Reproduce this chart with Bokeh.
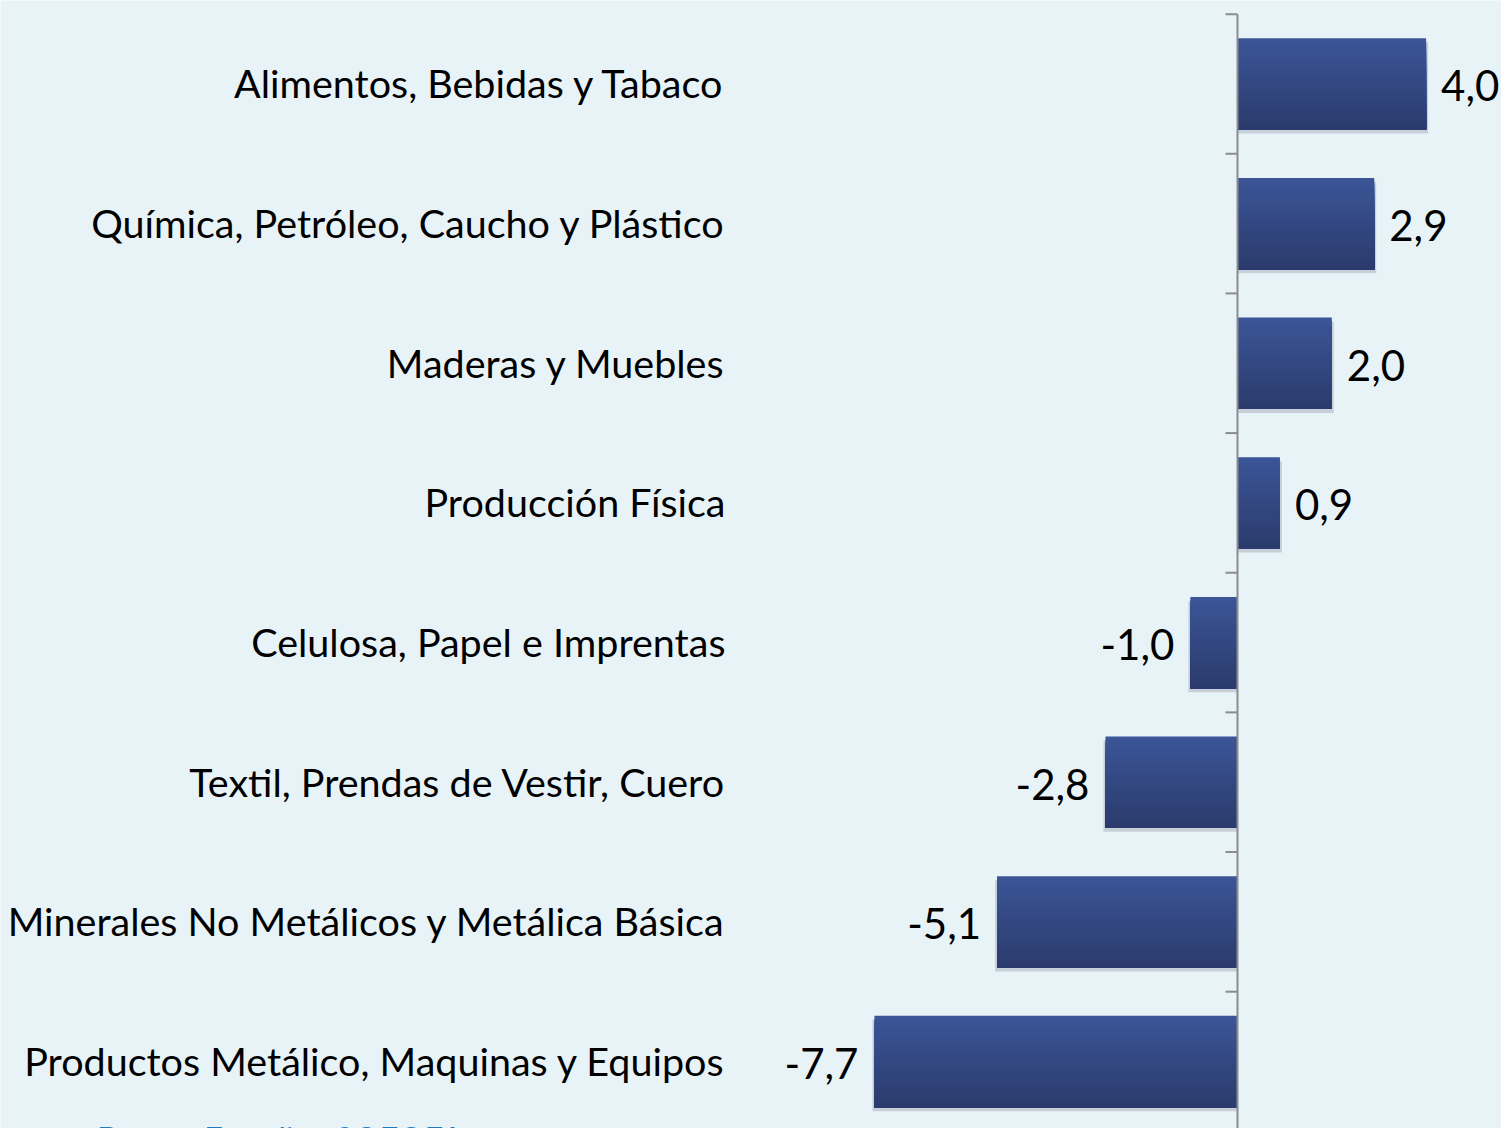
import numpy as np
from bokeh.plotting import figure
from bokeh.models import ColumnDataSource, Range1d
from bokeh.core.properties import value
from bokeh.embed import file_html
from bokeh.resources import INLINE

# ---- data (top to bottom) ----
categories = [
    "Alimentos, Bebidas y Tabaco",
    "Química, Petróleo, Caucho y Plástico",
    "Maderas y Muebles",
    "Producción Física",
    "Celulosa, Papel e Imprentas",
    "Textil, Prendas de Vestir, Cuero",
    "Minerales No Metálicos y Metálica Básica",
    "Productos Metálico, Maquinas y Equipos",
]
values = [4.0, 2.9, 2.0, 0.9, -1.0, -2.8, -5.1, -7.7]
value_labels = ["4,0", "2,9", "2,0", "0,9", "-1,0", "-2,8", "-5,1", "-7,7"]
source_note = "Fuente: Depto. Estudios SOFOFA"

# ---- layout ----
W, H = 1501, 1128
PX_X = 47.15         # pixels per value unit
PX_Y = 139.65        # pixels per category slot
AXIS_PX = 1237       # axis position from left of figure
Y0_PX = 67.0         # centre of bottom category from bottom of figure
BAR_H = 0.654
FONT = "Lato"

n = len(categories)
ys = [n - 1 - i for i in range(n)]

p = figure(width=W, height=H,
           x_range=Range1d(-AXIS_PX / PX_X, (W - AXIS_PX) / PX_X),
           y_range=Range1d(-Y0_PX / PX_Y, (H - Y0_PX) / PX_Y),
           output_backend="svg", toolbar_location=None,
           x_axis_location=None, y_axis_location=None, min_border=0)
p.grid.visible = False
p.outline_line_color = None
p.background_fill_color = "#e8f3f8"
p.border_fill_color = "#e8f3f8"

# shadow
p.hbar(y=[y - 4 / PX_Y for y in ys], left=[min(v, 0) - (2 / PX_X if v < 0 else 0) for v in values],
       right=[max(v, 0) + (2 / PX_X if v > 0 else 0) for v in values],
       height=BAR_H, fill_color="#7a8090", fill_alpha=0.3, line_color=None)

# gradient bars: overlapping slices, each reaching to the bar bottom
N = 30
top_c = np.array([0x3b, 0x55, 0x97])
bot_c = np.array([0x2b, 0x3b, 0x6d])
sl_y, sl_h, sl_l, sl_r, sl_c = [], [], [], [], []
for y, v in zip(ys, values):
    top = y + BAR_H / 2
    bot = y - BAR_H / 2
    for k in range(N):
        t = k / (N - 1)
        c = top_c + (bot_c - top_c) * t
        col = "#%02x%02x%02x" % tuple(int(round(x)) for x in c)
        s_top = top - k * BAR_H / N
        sl_y.append((s_top + bot) / 2)
        sl_h.append(s_top - bot)
        sl_l.append(min(v, 0))
        sl_r.append(max(v, 0))
        sl_c.append(col)
p.hbar(y=sl_y, left=sl_l, right=sl_r, height=sl_h,
       fill_color=sl_c, line_color=None)

# axis line and ticks
p.segment(x0=[0], y0=[-1], x1=[0], y1=[n - 0.5], line_color="#8c8c8c", line_width=2)
bounds = [i + 0.5 for i in range(-1, n)]
p.segment(x0=[-12 / PX_X] * len(bounds), y0=bounds, x1=[0] * len(bounds), y1=bounds,
          line_color="#8c8c8c", line_width=2)

# category labels
cat_src = ColumnDataSource(dict(x=[-(AXIS_PX - 725) / PX_X] * n, y=ys, t=categories))
p.text(x="x", y="y", text="t", source=cat_src, text_align="right", text_baseline="middle",
       text_font=value(FONT), text_font_size="39.5px", text_color="#000000", y_offset=-1)

# value labels
vx = [v + (15 / PX_X if v > 0 else -16 / PX_X) for v in values]
val_src = ColumnDataSource(dict(x=vx, y=ys, t=value_labels,
                                a=["left" if v > 0 else "right" for v in values]))
p.text(x="x", y="y", text="t", source=val_src, text_align="a", text_baseline="middle",
       text_font=value(FONT), text_font_size="42px", text_color="#000000", y_offset=2)

# source note (cut by page bottom, as in the original)
p.text(x=[-(AXIS_PX + 21) / PX_X], y=[-(Y0_PX + 9) / PX_Y], text=[source_note],
       text_align="left", text_baseline="alphabetic", text_font=value(FONT),
       text_font_size="33px", text_color="#1f7bc4")

open("out.html", "w").write(file_html(p, INLINE))
